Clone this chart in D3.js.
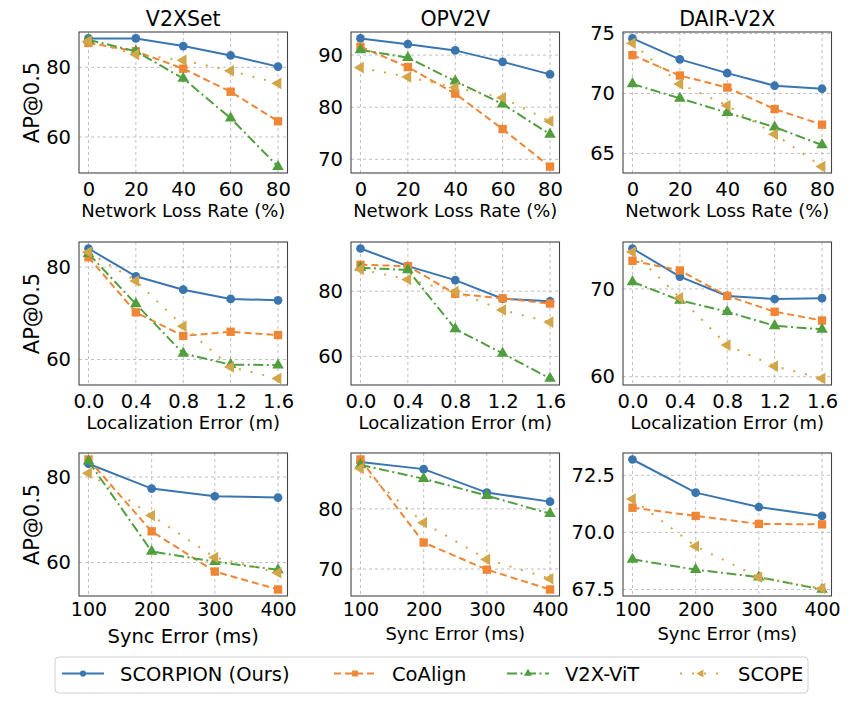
<!DOCTYPE html>
<html lang="en">
<head>
<meta charset="UTF-8">
<title>AP@0.5 robustness</title>
<script src="https://d3js.org/d3.v7.min.js"></script>
<style>
  body { margin: 0; background: #fff; font-family: "DejaVu Sans", sans-serif; }
  svg text { fill: #000; }
  .grid line { stroke: #b0b0b0; stroke-width: 0.8; stroke-dasharray: 3,3; }
  .frame { fill: none; stroke: #444; stroke-width: 1.1; }
</style>
</head>
<body>
<svg id="chart" width="864" height="703"></svg>
<script>
// data
const methods = ["SCORPION (Ours)", "CoAlign", "V2X-ViT", "SCOPE"];
const datasets = ["V2XSet", "OPV2V", "DAIR-V2X"];

const networkLoss = [0, 20, 40, 60, 80];
const locError = [0, 0.4, 0.8, 1.2, 1.6];
const syncError = [100, 200, 300, 400];

// each array: [SCORPION, CoAlign, V2X-ViT, SCOPE]
const v2xsetLoss = [
  [88.3, 88.3, 86.1, 83.4, 80.2],
  [87.0, 84.6, 79.6, 73.0, 64.5],
  [87.9, 84.6, 76.8, 65.4, 51.5],
  [87.5, 83.7, 82.0, 79.0, 75.4]
];
const opv2vLoss = [
  [93.2, 92.1, 90.9, 88.7, 86.3],
  [91.6, 87.7, 82.6, 75.8, 68.6],
  [91.0, 89.5, 85.0, 80.6, 74.8],
  [87.6, 85.8, 83.8, 81.8, 77.3]
];
const dairLoss = [
  [74.6, 72.85, 71.7, 70.65, 70.4],
  [73.2, 71.5, 70.5, 68.7, 67.4],
  [70.8, 69.6, 68.4, 67.2, 65.7],
  [74.2, 70.8, 69.0, 66.6, 63.9]
];
const v2xsetLoc = [
  [84.0, 78.0, 75.1, 73.1, 72.8],
  [82.1, 70.2, 65.1, 66.0, 65.3],
  [82.9, 72.0, 61.3, 58.9, 58.8],
  [83.2, 77.0, 67.2, 58.4, 55.9]
];
const opv2vLoc = [
  [93.1, 87.7, 83.4, 77.7, 76.9],
  [88.1, 87.7, 79.2, 77.8, 76.2],
  [87.2, 86.5, 68.4, 60.9, 53.2],
  [86.7, 83.6, 79.9, 74.2, 70.5]
];
const dairLoc = [
  [74.6, 71.4, 69.2, 68.85, 68.95],
  [73.2, 72.1, 69.2, 67.4, 66.4],
  [70.8, 68.7, 67.4, 65.8, 65.4],
  [74.2, 69.0, 63.6, 61.2, 59.8]
];
const v2xsetSync = [
  [83.1, 77.3, 75.5, 75.2],
  [84.1, 67.3, 57.9, 53.7],
  [83.7, 62.6, 60.2, 58.3],
  [80.9, 71.0, 61.2, 57.6]
];
const opv2vSync = [
  [87.8, 86.6, 82.7, 81.2],
  [88.2, 74.4, 69.9, 66.6],
  [87.3, 85.0, 82.2, 79.2],
  [86.7, 77.7, 71.6, 68.4]
];
const dairSync = [
  [73.19, 71.74, 71.11, 70.72],
  [71.08, 70.72, 70.37, 70.35],
  [68.82, 68.37, 68.04, 67.50],
  [71.46, 69.39, 68.04, 67.54]
];

const lossTicks = [0, 20, 40, 60, 80];
const locTicks = [0, 0.4, 0.8, 1.2, 1.6];
const syncTicks = [100, 200, 300, 400];
const yTicks = [
  [[60, 80], [70, 80, 90], [65, 70, 75]],
  [[60, 80], [60, 80], [60, 70]],
  [[60, 80], [70, 80], [67.5, 70, 72.5]]
];

const rows = [
  { x: networkLoss, xTicks: lossTicks, xFmt: d3.format("d"), label: "Network Loss Rate (%)",
    series: [v2xsetLoss, opv2vLoss, dairLoss] },
  { x: locError, xTicks: locTicks, xFmt: d3.format(".1f"), label: "Localization Error (m)",
    series: [v2xsetLoc, opv2vLoc, dairLoc] },
  { x: syncError, xTicks: syncTicks, xFmt: d3.format("d"), label: "Sync Error (ms)",
    series: [v2xsetSync, opv2vSync, dairSync] }
];

// styling
const colors = ["#3b75af", "#ef8636", "#519e3e", "#d4a64a"];
const dashes = [null, "7,4", "10,3.5,2,3.5", "2,10"];
const symbols = [
  { type: d3.symbolCircle, size: 60, rot: 0 },
  { type: d3.symbolSquare, size: 70, rot: 0 },
  { type: d3.symbolTriangle, size: 58, rot: 0 },
  { type: d3.symbolTriangle, size: 58, rot: -90 }
];

const colLeft = [79, 351, 623];
const plotW = 208.5;
const rowTop = [32, 242, 453];
const rowH = [141, 143, 143];

const svg = d3.select("#chart");

function padded(ext) {
  const m = (ext[1] - ext[0]) * 0.05;
  return [ext[0] - m, ext[1] + m];
}

rows.forEach((row, r) => {
  row.series.forEach((seriesSet, c) => {
    const left = colLeft[c], top = rowTop[r], h = rowH[r];
    const allY = seriesSet.flat();
    const x = d3.scaleLinear().domain(padded(d3.extent(row.x))).range([left, left + plotW]);
    const y = d3.scaleLinear().domain(padded(d3.extent(allY))).range([top + h, top]);

    const g = svg.append("g");

    // grid
    const grid = g.append("g").attr("class", "grid");
    grid.selectAll("line.v").data(row.xTicks).join("line")
      .attr("x1", d => x(d)).attr("x2", d => x(d))
      .attr("y1", top).attr("y2", top + h);
    grid.selectAll("line.h").data(yTicks[r][c]).join("line")
      .attr("class", "h")
      .attr("x1", left).attr("x2", left + plotW)
      .attr("y1", d => y(d)).attr("y2", d => y(d));

    // series
    seriesSet.forEach((vals, k) => {
      const pts = row.x.map((xv, i) => [xv, vals[i]]);
      g.append("path")
        .datum(pts)
        .attr("fill", "none")
        .attr("stroke", colors[k])
        .attr("stroke-width", 2)
        .attr("stroke-dasharray", dashes[k])
        .attr("d", d3.line().x(d => x(d[0])).y(d => y(d[1])));
      const sym = d3.symbol().type(symbols[k].type).size(symbols[k].size);
      g.selectAll(null).data(pts).join("path")
        .attr("transform", d => `translate(${x(d[0])},${y(d[1])}) rotate(${symbols[k].rot})`)
        .attr("d", sym)
        .attr("fill", colors[k]);
    });

    // axes (no visible tick marks in the original)
    const lastRow = r === 2;
    const xAxis = d3.axisBottom(x).tickValues(row.xTicks).tickFormat(row.xFmt)
      .tickSize(0).tickPadding(lastRow ? 6.5 : 9);
    const yFmt = (lastRow && c === 2) ? d3.format(".1f") : d3.format("d");
    const yAxis = d3.axisLeft(y).tickValues(yTicks[r][c]).tickFormat(yFmt)
      .tickSize(0).tickPadding(8);

    const gx = g.append("g").attr("transform", `translate(0,${top + h})`).call(xAxis);
    const gy = g.append("g").attr("transform", `translate(${left},0)`).call(yAxis);
    [gx, gy].forEach(a => {
      a.select(".domain").remove();
      a.selectAll(".tick line").remove();
      a.selectAll(".tick text")
        .attr("font-family", "DejaVu Sans").attr("font-size", 19.5).attr("fill", "#000");
    });
    if (lastRow) gx.selectAll(".tick text").attr("font-size", 19);

    g.append("rect").attr("class", "frame")
      .attr("x", left).attr("y", top).attr("width", plotW).attr("height", h);

    // x label
    const bigLabel = lastRow && c === 0;
    g.append("text")
      .attr("x", left + plotW / 2)
      .attr("y", top + h + (bigLabel ? 46.5 : 44))
      .attr("text-anchor", "middle")
      .attr("font-size", bigLabel ? 19.5 : 18)
      .text(row.label);

    if (c === 0) {
      g.append("text")
        .attr("transform", `translate(39,${top + h / 2}) rotate(-90)`)
        .attr("text-anchor", "middle")
        .attr("font-size", 21)
        .text("AP@0.5");
    }
    if (r === 0) {
      g.append("text")
        .attr("x", left + plotW / 2)
        .attr("y", top - 6)
        .attr("text-anchor", "middle")
        .attr("font-size", 20.5)
        .text(datasets[c]);
    }
  });
});

// legend
const legX = [62, 334, 507, 680];
const leg = svg.append("g");
leg.append("rect")
  .attr("x", 55).attr("y", 657).attr("width", 753).attr("height", 36)
  .attr("rx", 4).attr("fill", "#fff").attr("stroke", "#d0d0d0");
methods.forEach((m, k) => {
  const lx = legX[k], ly = 673.5;
  leg.append("line")
    .attr("x1", lx).attr("x2", lx + 42).attr("y1", ly).attr("y2", ly)
    .attr("stroke", colors[k]).attr("stroke-width", 2)
    .attr("stroke-dasharray", dashes[k]);
  leg.append("path")
    .attr("transform", `translate(${lx + 21},${ly}) rotate(${symbols[k].rot})`)
    .attr("d", d3.symbol().type(symbols[k].type).size(symbols[k].size * 0.5))
    .attr("fill", colors[k]);
  leg.append("text")
    .attr("x", lx + 58).attr("y", ly + 7.5)
    .attr("font-size", 19.5)
    .text(m);
});
</script>
</body>
</html>
